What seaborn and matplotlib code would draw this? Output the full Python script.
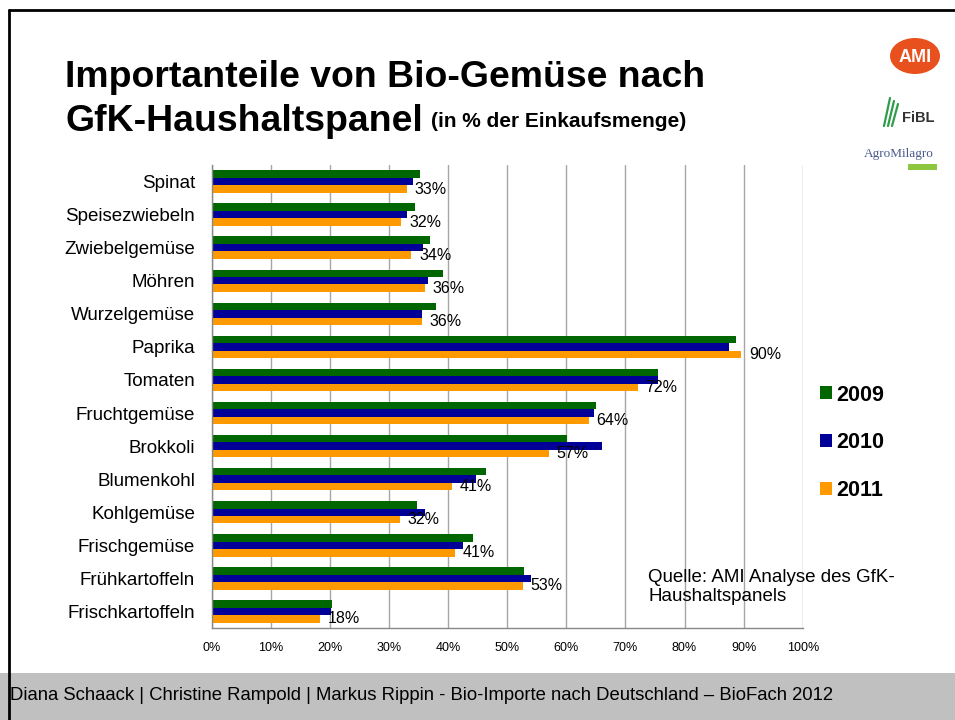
import matplotlib

matplotlib.use("Agg")
import matplotlib.pyplot as plt
import numpy as np
import pandas as pd
import seaborn as sns
from matplotlib.lines import Line2D
from matplotlib.patches import Ellipse, Rectangle

# values (% of purchase volume)
categories = ["Spinat", "Speisezwiebeln", "Zwiebelgemüse", "Möhren", "Wurzelgemüse",
              "Paprika", "Tomaten", "Fruchtgemüse", "Brokkoli", "Blumenkohl",
              "Kohlgemüse", "Frischgemüse", "Frühkartoffeln", "Frischkartoffeln"]
years = ["2009", "2010", "2011"]
share_2009 = [35.2, 34.4, 36.9, 39.2, 38.0, 88.7, 75.5, 65.0, 60.1, 46.4, 34.7, 44.2, 52.9, 20.3]
share_2010 = [34.0, 33.0, 35.8, 36.6, 35.6, 87.6, 75.6, 64.7, 66.0, 44.7, 36.1, 42.6, 54.1, 20.2]
share_2011 = [33.0, 32.1, 33.8, 36.1, 35.6, 89.6, 72.1, 63.8, 57.1, 40.6, 31.9, 41.2, 52.7, 18.3]
x_ticks = list(range(0, 101, 10))

colors = ["#006600", "#000099", "#FF9900"]

df = pd.DataFrame({
    "Gemüse": categories * 3,
    "Jahr": [y for y in years for _ in categories],
    "Anteil": share_2009 + share_2010 + share_2011,
})

sns.set_style("white")
plt.rcParams["font.family"] = ["Liberation Sans", "DejaVu Sans"]
plt.rcParams["text.color"] = "black"
plt.rcParams["xtick.color"] = "black"
plt.rcParams["ytick.color"] = "black"

W, H = 955, 720
fig = plt.figure(figsize=(9.55, 7.2), dpi=100)
ax = fig.add_axes([211.7 / W, 1 - 628 / H, (802.7 - 211.7) / W, 463 / H])

sns.barplot(data=df, y="Gemüse", x="Anteil", hue="Jahr", hue_order=years,
            palette=colors, saturation=1, width=0.68, orient="h", ax=ax,
            edgecolor="none")

ax.set_xlim(0, 100)
ax.set_xticks(x_ticks)
ax.set_xticklabels([f"{t}%" for t in x_ticks], fontsize=9)
ax.set_yticks(range(len(categories)))
ax.set_yticklabels(categories, fontsize=13.5)
ax.set_yticks(np.arange(-0.5, len(categories), 1), minor=True)
ax.tick_params(axis="y", which="major", length=0, pad=12)
ax.tick_params(axis="y", which="minor", length=5, color="#888888", width=1)
ax.tick_params(axis="x", length=0, pad=10)
ax.set_xlabel("")
ax.set_ylabel("")
ax.xaxis.grid(True, color="#a6a6a6", lw=1)
ax.set_axisbelow(True)
for s in ["top", "right"]:
    ax.spines[s].set_visible(False)
for s in ["left", "bottom"]:
    ax.spines[s].set_color("#888888")
    ax.spines[s].set_linewidth(1)

# labels for 2011 only
ax.bar_label(ax.containers[2], labels=[f"{round(v)}%" for v in share_2011],
             padding=5.5, fontsize=11.5)

handles, labels = ax.get_legend_handles_labels()
ax.get_legend().remove()
fig.legend(handles, labels, loc="center left", bbox_to_anchor=(801 / W, 1 - 443 / H),
           frameon=False, handlelength=0.55, handleheight=0.55, handletextpad=0.2,
           labelspacing=1.25, prop={"weight": "bold", "size": 15.5})

# title
fig.text(65 / W, 1 - 87 / H, "Importanteile von Bio-Gemüse nach", fontsize=26.9,
         fontweight="bold", va="baseline")
fig.text(65 / W, 1 - 131 / H, "GfK-Haushaltspanel", fontsize=26.9,
         fontweight="bold", va="baseline")
fig.text(431 / W, 1 - 127 / H, "(in % der Einkaufsmenge)", fontsize=15,
         fontweight="bold", va="baseline")

fig.text(648 / W, 1 - 569 / H, "Quelle: AMI Analyse des GfK-\nHaushaltspanels",
         fontsize=13.5, va="top", linespacing=1.12)

# footer band and slide frame
fig.patches.append(Rectangle((0, 0), 1, 47 / H, transform=fig.transFigure,
                             facecolor="#c0c0c0", edgecolor="none", zorder=0))
fig.text(10 / W, 1 - 696 / H,
         "Diana Schaack | Christine Rampold | Markus Rippin - Bio-Importe nach Deutschland – BioFach 2012",
         fontsize=13.3, va="center")
fig.lines.append(Line2D([8.7 / W, 1], [1 - 9.5 / H, 1 - 9.5 / H], transform=fig.transFigure,
                        color="black", lw=2))
fig.lines.append(Line2D([8.7 / W, 8.7 / W], [0, 1 - 9.5 / H], transform=fig.transFigure,
                        color="black", lw=2))

# logos (approximated)
fig.patches.append(Ellipse((915 / W, 1 - 56 / H), 50 / W, 36 / H, transform=fig.transFigure,
                           facecolor="#E8501E", edgecolor="none"))
fig.text(915 / W, 1 - 57 / H, "AMI", color="white", fontsize=13, fontweight="bold",
         ha="center", va="center")
for i, dx in enumerate([0, 4, 8]):
    fig.lines.append(Line2D([(884 + dx) / W, (890 + dx) / W], [1 - 126 / H, 1 - (98 + i * 3) / H],
                            transform=fig.transFigure, color="#2e9e4a", lw=1.6))
fig.text(902 / W, 1 - 118 / H, "FiBL", color="#333333", fontsize=10.5, fontweight="bold",
         va="center")
fig.text(899 / W, 1 - 154 / H, "AgroMilagro", color="#4a5a8a", fontsize=9.5,
         family=["Liberation Serif", "DejaVu Serif"], ha="center", va="center")
fig.patches.append(Rectangle((908 / W, 1 - 170 / H), 29 / W, 6 / H, transform=fig.transFigure,
                             facecolor="#8dc63f", edgecolor="none"))

fig.savefig("out.png", dpi=100)
